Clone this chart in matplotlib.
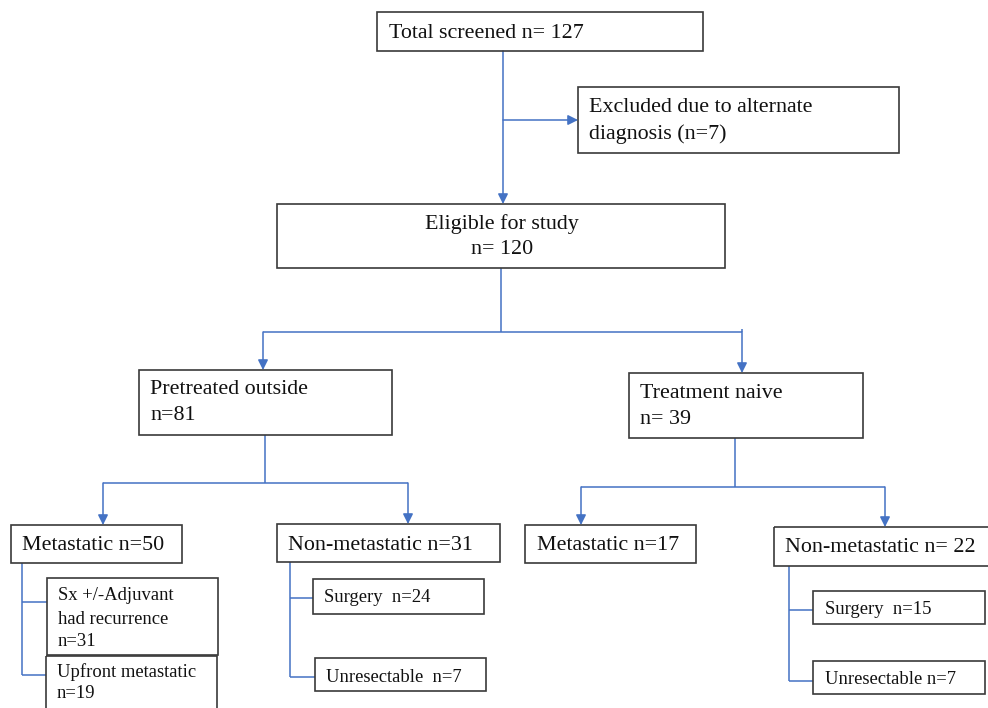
import matplotlib
matplotlib.use("Agg")
import matplotlib.pyplot as plt
from matplotlib.patches import Rectangle

# ---- data (labels / counts) ----
total_screened = 127
excluded = 7
eligible = 120
pretreated = 81
naive = 39
pre_metastatic = 50
pre_nonmetastatic = 31
naive_metastatic = 17
naive_nonmetastatic = 22
pre_met_recurrence = 31
pre_met_upfront = 19
pre_non_surgery = 24
pre_non_unresect = 7
naive_non_surgery = 15
naive_non_unresect = 7

BLUE = "#4472C4"
EDGE = "#3a3a3a"
plt.rcParams['font.family'] = ['Liberation Serif', 'DejaVu Serif']

fig = plt.figure(figsize=(9.88, 7.08), dpi=100)
ax = fig.add_axes([0, 0, 1, 1])
ax.set_xlim(0, 988)
ax.set_ylim(708, 0)
ax.axis('off')

BIG = 15.8
SMALL = 13.4

def box(x0, y0, x1, y1, lines, tx, ty, size=BIG, ha='left', lh=26):
    ax.add_patch(Rectangle((x0, y0), x1 - x0, y1 - y0, fill=False,
                           edgecolor=EDGE, linewidth=1.2, zorder=3))
    for i, t in enumerate(lines):
        ax.text(tx, ty + 2 + i * lh, t, fontsize=size, ha=ha, va='center',
                color='#111111', zorder=4)

def line(xs, ys):
    ax.plot(xs, ys, color=BLUE, linewidth=1.1, solid_capstyle='butt', zorder=2)

def arrow(x0, y0, x1, y1):
    ax.annotate('', xy=(x1, y1), xytext=(x0, y0),
                arrowprops=dict(arrowstyle='-|>', color=BLUE, lw=1.1,
                                mutation_scale=15, shrinkA=0, shrinkB=0),
                zorder=2)

# boxes
box(377, 12, 703, 51, [f"Total screened n= {total_screened}"], 389, 31)
box(578, 87, 899, 153, ["Excluded due to alternate", f"diagnosis (n={excluded})"], 589, 106)
box(277, 204, 725, 268, ["Eligible for study", f"n= {eligible}"], 502, 222, ha='center')
box(139, 370, 392, 435, ["Pretreated outside", f"n={pretreated}"], 150, 388, lh=25)
box(629, 373, 863, 438, ["Treatment naive", f"n= {naive}"], 640, 391, lh=26)
box(11, 525, 182, 563, [f"Metastatic n={pre_metastatic}"], 22, 544)
box(277, 524, 500, 562, [f"Non-metastatic n={pre_nonmetastatic}"], 288, 543)
box(525, 525, 696, 563, [f"Metastatic n={naive_metastatic}"], 537, 543)
box(774, 527, 992, 566, [f"Non-metastatic n= {naive_nonmetastatic}"], 785, 546)
box(47, 578, 218, 655, ["Sx +/-Adjuvant", "had recurrence", f"n={pre_met_recurrence}"],
    58, 594, size=SMALL, lh=23)
box(46, 656, 217, 712, ["Upfront metastatic", f"n={pre_met_upfront}"], 57, 670,
    size=SMALL, lh=22)
box(313, 579, 484, 614, [f"Surgery  n={pre_non_surgery}"], 324, 596, size=SMALL)
box(315, 658, 486, 691, [f"Unresectable  n={pre_non_unresect}"], 326, 675, size=SMALL)
box(813, 591, 985, 624, [f"Surgery  n={naive_non_surgery}"], 825, 607, size=SMALL)
box(813, 661, 985, 694, [f"Unresectable n={naive_non_unresect}"], 825, 677, size=SMALL)

# connectors
arrow(503, 51, 503, 204)
arrow(503, 120, 578, 120)

line([501, 501], [268, 332])
line([263, 742], [332, 332])
arrow(263, 332, 263, 370)
line([742, 742], [329, 332])
arrow(742, 332, 742, 373)

line([265, 265], [435, 483])
line([103, 408], [483, 483])
arrow(103, 483, 103, 525)
arrow(408, 483, 408, 524)

line([735, 735], [438, 487])
line([581, 885], [487, 487])
arrow(581, 487, 581, 525)
arrow(885, 487, 885, 527)

line([22, 22], [563, 675])
line([22, 47], [602, 602])
line([22, 46], [675, 675])

line([290, 290], [562, 677])
line([290, 313], [598, 598])
line([290, 315], [677, 677])

line([789, 789], [566, 681])
line([789, 813], [610, 610])
line([789, 813], [681, 681])

fig.savefig("out.png", dpi=100)
